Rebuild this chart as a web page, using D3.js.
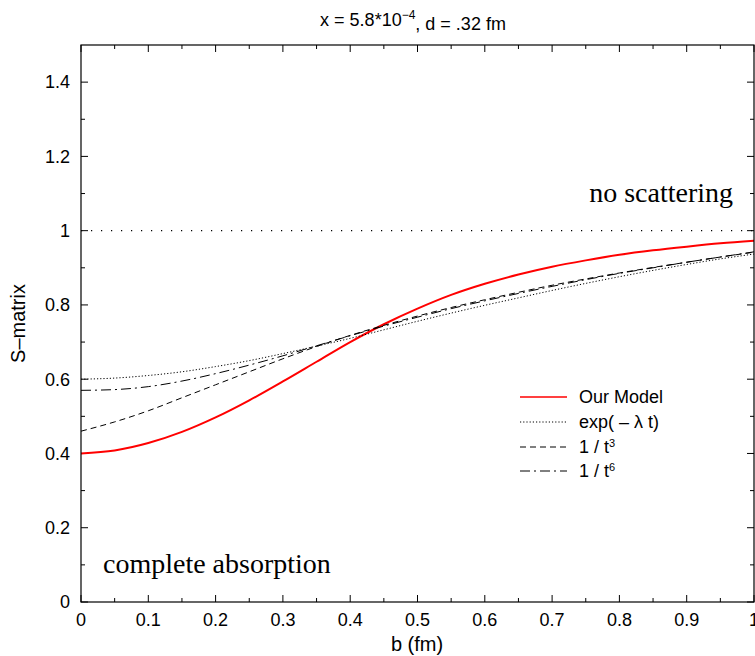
<!DOCTYPE html>
<html>
<head>
<meta charset="utf-8">
<script src="https://cdn.jsdelivr.net/npm/d3@7"></script>
<style>
  body { margin: 0; background: #fff; }
  svg { display: block; }
  .tick-label { font-family: "Liberation Sans", Arial, sans-serif; font-size: 18px; fill: #000; }
  .axis-title { font-family: "Liberation Sans", Arial, sans-serif; font-size: 20px; fill: #000; }
  .note { font-family: "Liberation Serif", "Times New Roman", serif; font-size: 28px; fill: #000; }
</style>
</head>
<body>
<div id="chart"></div>
<script>
// b values (fm)
const bValues = [0, 0.05, 0.1, 0.15, 0.2, 0.25, 0.3, 0.35, 0.4, 0.45, 0.5,
    0.55, 0.6, 0.65, 0.7, 0.75, 0.8, 0.85, 0.9, 0.95, 1.0];

const ourModel = [0.400, 0.408, 0.428, 0.458, 0.497, 0.543, 0.594, 0.647, 0.700, 0.748, 0.790,
    0.827, 0.857, 0.882, 0.903, 0.920, 0.935, 0.947, 0.957, 0.966, 0.973];
const expLambda = [0.600, 0.603, 0.61, 0.62, 0.634, 0.65, 0.669, 0.689, 0.71, 0.733, 0.756,
    0.778, 0.799, 0.819, 0.839, 0.858, 0.876, 0.893, 0.909, 0.924, 0.937];
const invT3 = [0.46, 0.485, 0.515, 0.55, 0.585, 0.62, 0.655, 0.688, 0.718, 0.745, 0.77,
    0.793, 0.814, 0.834, 0.853, 0.87, 0.886, 0.901, 0.915, 0.929, 0.942];
const invT6 = [0.57, 0.572, 0.58, 0.595, 0.615, 0.638, 0.663, 0.69, 0.717, 0.743, 0.767,
    0.79, 0.811, 0.831, 0.85, 0.868, 0.885, 0.9, 0.915, 0.929, 0.943];

const xTicks = [0, 0.1, 0.2, 0.3, 0.4, 0.5, 0.6, 0.7, 0.8, 0.9, 1];
const yTicks = [0, 0.2, 0.4, 0.6, 0.8, 1, 1.2, 1.4];

const SERIES = [
    { label: 'Our Model', values: ourModel, color: '#ff0000', width: 2, dash: null },
    { label: 'exp', values: expLambda, color: '#000', width: 1, dash: '1.2,2' },
    { label: 't3', values: invT3, color: '#000', width: 1, dash: '6,4' },
    { label: 't6', values: invT6, color: '#000', width: 1, dash: '10,4,2,4' }
];

const width = 755;
const height = 656;
const margin = { top: 45, right: 1, bottom: 54, left: 81 };
const innerWidth = width - margin.left - margin.right;
const innerHeight = height - margin.top - margin.bottom;

const svg = d3.select('#chart').append('svg')
    .attr('width', width)
    .attr('height', height);

const chartGroup = svg.append('g')
    .attr('transform', `translate(${margin.left},${margin.top})`);

const xScale = d3.scaleLinear().domain([0, 1]).range([0, innerWidth]);
const yScale = d3.scaleLinear().domain([0, 1.5]).range([innerHeight, 0]);

// inward ticks on all four sides
const xMinor = d3.range(0.05, 1, 0.1);
const yMinor = d3.range(0.1, 1.5, 0.2);

const tickLayer = chartGroup.append('g')
    .attr('stroke', '#000')
    .attr('stroke-width', 1);

function tickMarks(values, len, isX) {
    values.forEach((v) => {
        if (isX) {
            const px = xScale(v);
            tickLayer.append('line').attr('x1', px).attr('x2', px)
                .attr('y1', innerHeight).attr('y2', innerHeight - len);
            tickLayer.append('line').attr('x1', px).attr('x2', px)
                .attr('y1', 0).attr('y2', len);
        } else {
            const py = yScale(v);
            tickLayer.append('line').attr('y1', py).attr('y2', py)
                .attr('x1', 0).attr('x2', len);
            tickLayer.append('line').attr('y1', py).attr('y2', py)
                .attr('x1', innerWidth).attr('x2', innerWidth - len);
        }
    });
}

tickMarks(xTicks, 7, true);
tickMarks(xMinor, 4, true);
tickMarks(yTicks, 7, false);
tickMarks(yMinor, 4, false);

chartGroup.selectAll('.x-label')
    .data(xTicks)
    .enter()
    .append('text')
    .attr('class', 'tick-label')
    .attr('x', (d) => xScale(d))
    .attr('y', innerHeight + 24)
    .attr('text-anchor', 'middle')
    .text((d) => d3.format('~g')(d));

chartGroup.selectAll('.y-label')
    .data(yTicks)
    .enter()
    .append('text')
    .attr('class', 'tick-label')
    .attr('x', -11)
    .attr('y', (d) => yScale(d))
    .attr('dy', '0.35em')
    .attr('text-anchor', 'end')
    .text((d) => d3.format('~g')(d));

// no scattering reference line
chartGroup.append('line')
    .attr('x1', 0).attr('x2', innerWidth)
    .attr('y1', yScale(1)).attr('y2', yScale(1))
    .attr('stroke', '#000')
    .attr('stroke-width', 1.2)
    .attr('stroke-dasharray', '1.2,8.8');

const line = d3.line()
    .x((d) => xScale(d[0]))
    .y((d) => yScale(d[1]))
    .curve(d3.curveMonotoneX);

SERIES.forEach((series) => {
    chartGroup.append('path')
        .datum(bValues.map((b, i) => [b, series.values[i]]))
        .attr('fill', 'none')
        .attr('stroke', series.color)
        .attr('stroke-width', series.width)
        .attr('stroke-dasharray', series.dash)
        .attr('d', line);
});

// frame
chartGroup.append('rect')
    .attr('width', innerWidth)
    .attr('height', innerHeight)
    .attr('fill', 'none')
    .attr('stroke', '#000')
    .attr('stroke-width', 1.2);

// legend
const legendX = 439;
const legendY = [352, 377, 402, 426];
const legend = chartGroup.append('g');
SERIES.forEach((series, i) => {
    legend.append('line')
        .attr('x1', legendX).attr('x2', legendX + 47)
        .attr('y1', legendY[i]).attr('y2', legendY[i])
        .attr('stroke', series.color)
        .attr('stroke-width', series.width === 2 ? 1.6 : 1)
        .attr('stroke-dasharray', series.dash);
});

const labelX = legendX + 59;
legend.append('text').attr('class', 'tick-label')
    .attr('x', labelX).attr('y', legendY[0]).attr('dy', '0.35em')
    .text('Our Model');
legend.append('text').attr('class', 'tick-label')
    .attr('x', labelX).attr('y', legendY[1]).attr('dy', '0.35em')
    .text('exp( \u2013 \u03bb t)');
[['3', 2], ['6', 3]].forEach(([power, i]) => {
    const t = legend.append('text').attr('class', 'tick-label')
        .attr('x', labelX).attr('y', legendY[i]).attr('dy', '0.35em');
    t.append('tspan').text('1 / t');
    t.append('tspan').attr('dy', '-0.6em').attr('font-size', '11px').text(power);
});

// annotations
chartGroup.append('text')
    .attr('class', 'note')
    .attr('x', 652)
    .attr('y', 157)
    .attr('text-anchor', 'end')
    .text('no scattering');

chartGroup.append('text')
    .attr('class', 'note')
    .attr('x', 22)
    .attr('y', 528)
    .text('complete absorption');

// axis titles
svg.append('text')
    .attr('class', 'axis-title')
    .attr('x', 417)
    .attr('y', 651)
    .attr('text-anchor', 'middle')
    .text('b (fm)');

svg.append('text')
    .attr('class', 'axis-title')
    .attr('transform', `translate(25,${margin.top + innerHeight / 2}) rotate(-90)`)
    .attr('text-anchor', 'middle')
    .text('S\u2013matrix');

const title = svg.append('text')
    .attr('class', 'tick-label')
    .attr('x', 413)
    .attr('y', 26)
    .attr('text-anchor', 'middle')
    .style('font-size', '18px');
title.append('tspan').text('x = 5.8*10');
title.append('tspan').attr('dy', '-0.6em').attr('font-size', '12px').text('\u22124');
title.append('tspan').attr('dy', '0.6em').text(', d = .32 fm');
</script>
</body>
</html>
